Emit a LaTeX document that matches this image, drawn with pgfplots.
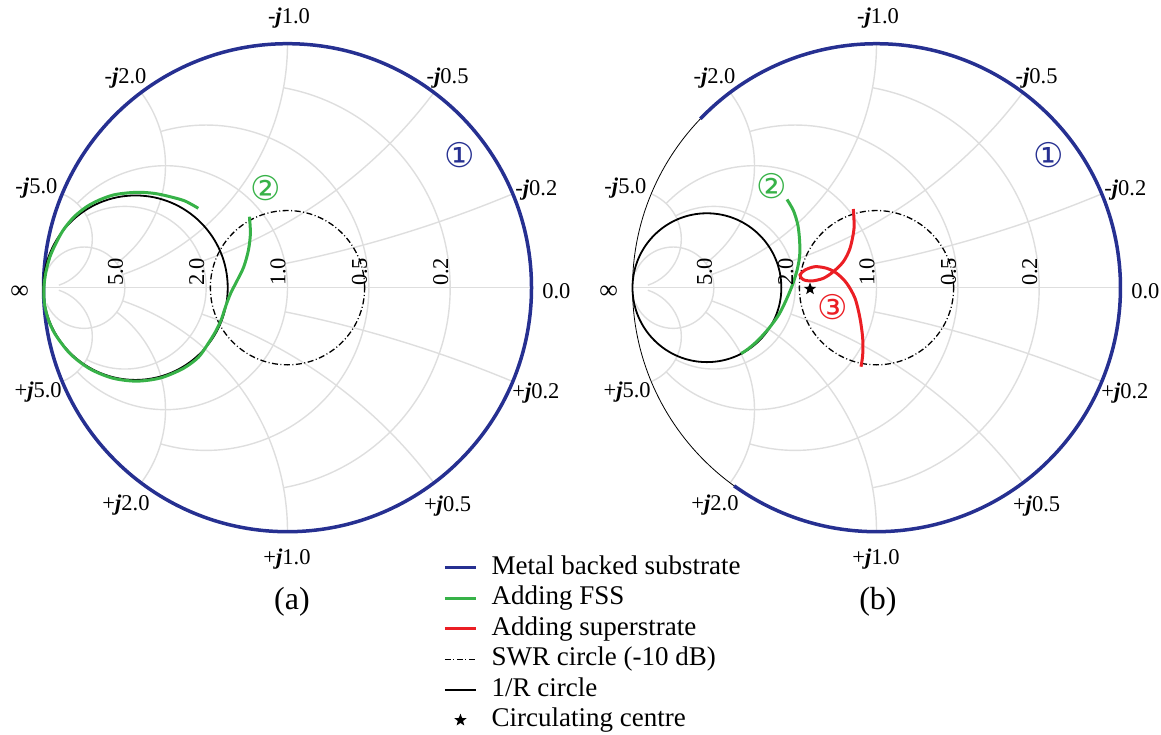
\documentclass[border=0pt]{standalone}
\usepackage{pgfplots}
\pgfplotsset{compat=1.18}
\usepackage{fontspec}
\setmainfont{Liberation Serif}
\newfontfamily\symfont{DejaVu Sans}

\definecolor{navyb}{RGB}{38,48,145}
\definecolor{fssgreen}{RGB}{55,178,72}
\definecolor{supred}{RGB}{235,30,36}
\definecolor{gridgray}{RGB}{222,222,222}

\pgfdeclareplotmark{fstar}{%
  \pgfpathmoveto{\pgfpointpolar{90}{\pgfplotmarksize}}%
  \pgfpathlineto{\pgfpointpolar{126}{0.42\pgfplotmarksize}}%
  \pgfpathlineto{\pgfpointpolar{162}{\pgfplotmarksize}}%
  \pgfpathlineto{\pgfpointpolar{198}{0.42\pgfplotmarksize}}%
  \pgfpathlineto{\pgfpointpolar{234}{\pgfplotmarksize}}%
  \pgfpathlineto{\pgfpointpolar{270}{0.42\pgfplotmarksize}}%
  \pgfpathlineto{\pgfpointpolar{306}{\pgfplotmarksize}}%
  \pgfpathlineto{\pgfpointpolar{342}{0.42\pgfplotmarksize}}%
  \pgfpathlineto{\pgfpointpolar{18}{\pgfplotmarksize}}%
  \pgfpathlineto{\pgfpointpolar{54}{0.42\pgfplotmarksize}}%
  \pgfpathclose\pgfusepathqfill}

\newcommand{\jj}{\textbf{\textit{j}}}
\tikzset{gridline/.style={gridgray, line width=1.4pt}}

\newcommand{\smithgrid}{%
  \draw[gridline] (axis cs:-1,0) -- (axis cs:1,0);
  % constant r circles
  \draw[gridline] (axis cs:-0.0164,-0.8197) arc[start angle=-79.61, end angle=79.61, radius=0.8333];
  \draw[gridline] (axis cs:-0.52,-0.64) arc[start angle=-106.26, end angle=106.26, radius=0.6667];
  \draw[gridline] (axis cs:-0.8621,-0.3448) arc[start angle=-136.40, end angle=136.40, radius=0.5];
  \draw[gridline] (axis cs:-0.8235,-0.2941) arc[start angle=-118.07, end angle=118.07, radius=0.3333];
  \draw[gridline] (axis cs:-0.9872,-0.0641) arc[start angle=-157.38, end angle=157.38, radius=0.1667];
  % reactance arcs (upper)
  \draw[gridline] (axis cs:0.9231,0.3846) arc[start angle=-67.38, end angle=-78.58, radius=5];
  \draw[gridline] (axis cs:0.6,0.8) arc[start angle=-36.87, end angle=-71.08, radius=2];
  \draw[gridline] (axis cs:0,1) arc[start angle=0, end angle=-71.08, radius=1];
  \draw[gridline] (axis cs:-0.6,0.8) arc[start angle=36.87, end angle=-53.13, radius=0.5];
  \draw[gridline] (axis cs:-0.9231,0.3846) arc[start angle=67.38, end angle=-71.67, radius=0.2];
  % reactance arcs (lower)
  \draw[gridline] (axis cs:0.9231,-0.3846) arc[start angle=67.38, end angle=78.58, radius=5];
  \draw[gridline] (axis cs:0.6,-0.8) arc[start angle=36.87, end angle=71.08, radius=2];
  \draw[gridline] (axis cs:0,-1) arc[start angle=0, end angle=71.08, radius=1];
  \draw[gridline] (axis cs:-0.6,-0.8) arc[start angle=-36.87, end angle=53.13, radius=0.5];
  \draw[gridline] (axis cs:-0.9231,-0.3846) arc[start angle=-67.38, end angle=71.67, radius=0.2];
}

\newcommand{\smithlabels}{%
  \begin{scope}[every node/.style={font=\fontsize{22.5}{26}\selectfont, inner sep=0pt}]
  \node at (axis cs:0.006,1.105) {-\jj1.0};
  \node at (axis cs:0.656,0.861) {-\jj0.5};
  \node at (axis cs:1.020,0.400) {-\jj0.2};
  \node at (axis cs:-0.664,0.857) {-\jj2.0};
  \node at (axis cs:-1.029,0.409) {-\jj5.0};
  \node[font=\fontsize{26}{28}\selectfont] at (axis cs:-1.098,-0.02) {∞};
  \node at (axis cs:1.102,-0.014) {0.0};
  \node at (axis cs:1.018,-0.432) {+\jj0.2};
  \node at (axis cs:0.656,-0.895) {+\jj0.5};
  \node at (axis cs:-0.002,-1.112) {+\jj1.0};
  \node at (axis cs:-0.662,-0.891) {+\jj2.0};
  \node at (axis cs:-1.022,-0.428) {+\jj5.0};
  \end{scope}
  \begin{scope}[every node/.style={font=\fontsize{22.5}{26}\selectfont, inner sep=1.5pt, rotate=90, anchor=south west}]
  \node at (axis cs:-0.6667,0) {5.0};
  \node at (axis cs:-0.3333,0) {2.0};
  \node at (axis cs:0,0) {1.0};
  \node at (axis cs:0.3333,0) {0.5};
  \node at (axis cs:0.6667,0) {0.2};
  \end{scope}
}

\tikzset{swr/.style={black, line width=1.3pt, dash pattern=on 6pt off 2.5pt on 1pt off 2.5pt}}
\tikzset{circnum/.style={font=\symfont\fontsize{34}{36}\selectfont, inner sep=0pt}}

\begin{document}
\begin{tikzpicture}
\path[use as bounding box] (0pt,0pt) rectangle (1161pt,734pt);

% ---------------- (a) ----------------
\begin{axis}[
  at={(287.5pt,446.3pt)}, anchor=center,
  x=244pt, y=244pt,
  xmin=-1, xmax=1, ymin=-1, ymax=1,
  enlargelimits=false, hide axis, clip=false,
  legend image code/.code={\draw[mark repeat=2,mark phase=2,#1] plot coordinates {(0pt,0pt) (15.5pt,0pt) (31pt,0pt)};},
  legend style={at={(axis description cs:0.8125,-0.0436)}, anchor=north west,
    draw=none, fill=none, font=\fontsize{27}{30}\selectfont,
    nodes={inner sep=0pt, text height=19pt, text depth=6pt},
    row sep=5.5pt,
    /tikz/every odd column/.style={column sep=14pt}},
  legend cell align=left,
]
\smithgrid
\draw[swr] (axis cs:0,0) circle[radius=0.3162];
\draw[black, line width=0.7pt] (axis cs:0,0) circle[radius=1];
\draw[navyb, line width=3.5pt] (axis cs:0,0) circle[radius=1];
\draw[black, line width=1.8pt] (axis cs:-0.623,0) circle[radius=0.378];

\addplot[fssgreen, line width=3pt, smooth, forget plot] coordinates {
(-0.3656,0.3254) (-0.4201,0.3553) (-0.4816,0.3730) (-0.5430,0.3861) (-0.6045,0.3910)
(-0.6600,0.3880) (-0.7139,0.3799) (-0.7700,0.3600) (-0.8230,0.3320) (-0.8750,0.2900)
(-0.9189,0.2365) (-0.9500,0.1800) (-0.9734,0.1270) (-0.9900,0.0650) (-0.9985,0.0000)
(-0.9960,-0.0665) (-0.9800,-0.1310) (-0.9517,-0.1915) (-0.8908,-0.2708) (-0.8115,-0.3317)
(-0.7191,-0.3700) (-0.6200,-0.3830) (-0.5209,-0.3700) (-0.4285,-0.3317) (-0.3650,-0.2850)
(-0.3246,-0.2279) (-0.2950,-0.1800) (-0.2720,-0.1324) (-0.2540,-0.0779) (-0.2330,-0.0230)
(-0.2060,0.0300) (-0.1790,0.0861) (-0.1600,0.1545) (-0.1520,0.2230) (-0.1560,0.2910)
};

\smithlabels
\node[circnum, text=navyb] at (axis cs:0.707,0.542) {①};
\node[circnum, text=fssgreen] at (axis cs:-0.090,0.409) {②};
\node[font=\fontsize{32}{36}\selectfont, inner sep=0pt] at (axis cs:0.018,-1.288) {(a)};

\addlegendimage{navyb, line width=3.5pt}
\addlegendentry{Metal backed substrate}
\addlegendimage{fssgreen, line width=3pt}
\addlegendentry{Adding FSS}
\addlegendimage{supred, line width=3pt}
\addlegendentry{Adding superstrate}
\addlegendimage{swr}
\addlegendentry{SWR circle (-10 dB)}
\addlegendimage{black, line width=1.8pt}
\addlegendentry{1/R circle}
\addlegendimage{only marks, mark=fstar, mark size=6.5pt, black}
\addlegendentry{Circulating centre}
\end{axis}

% ---------------- (b) ----------------
\begin{axis}[
  at={(876.5pt,446.3pt)}, anchor=center,
  x=244pt, y=244pt,
  xmin=-1, xmax=1, ymin=-1, ymax=1,
  enlargelimits=false, hide axis, clip=false,
]
\smithgrid
\draw[swr] (axis cs:0,0) circle[radius=0.3162];
\draw[black, line width=0.8pt] (axis cs:0,0) circle[radius=1];
\draw[navyb, line width=3.5pt] (axis cs:-0.7218,0.6921) arc[start angle=136.2, end angle=-125.7, radius=1];
\draw[black, line width=1.8pt] (axis cs:-0.695,0) circle[radius=0.305];

\addplot[fssgreen, line width=3pt, smooth] coordinates {
(-0.3668,0.3615) (-0.3400,0.3150) (-0.3220,0.2550) (-0.3150,0.1900) (-0.3150,0.1300)
(-0.3260,0.0700) (-0.3450,0.0100) (-0.3700,-0.0500) (-0.4000,-0.1100) (-0.4400,-0.1650)
(-0.4850,-0.2150) (-0.5250,-0.2500) (-0.5550,-0.2700)
};
\addplot[supred, line width=3pt, smooth] coordinates {
(-0.0951,0.3225) (-0.0922,0.2434) (-0.1086,0.1615) (-0.1361,0.1066) (-0.1770,0.0656)
(-0.2180,0.0385) (-0.2656,0.0275) (-0.3000,0.0330) (-0.3135,0.0520) (-0.2930,0.0725)
(-0.2520,0.0861) (-0.2041,0.0795) (-0.1631,0.0590) (-0.1221,0.0180) (-0.0881,-0.0434)
(-0.0676,-0.1254) (-0.0566,-0.2074) (-0.0566,-0.2758) (-0.0635,-0.3238)
};
\addplot[only marks, mark=fstar, mark size=6.5pt, black] coordinates {(-0.2725,-0.005)};

\smithlabels
\node[circnum, text=navyb] at (axis cs:0.705,0.542) {①};
\node[circnum, text=fssgreen] at (axis cs:-0.430,0.415) {②};
\node[circnum, text=supred] at (axis cs:-0.180,-0.081) {③};
\node[font=\fontsize{32}{36}\selectfont, inner sep=0pt] at (axis cs:0.006,-1.288) {(b)};
\end{axis}
\end{tikzpicture}
\end{document}
